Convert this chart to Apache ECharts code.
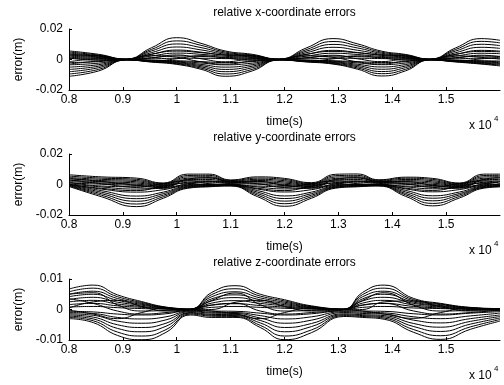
<!DOCTYPE html>
<html>
<head>
<meta charset="utf-8">
<script src="https://cdn.jsdelivr.net/npm/echarts@6/dist/echarts.min.js"></script>
<style>
  html, body { margin: 0; padding: 0; background: #fff; }
  #chart { width: 504px; height: 385px; }
</style>
</head>
<body>
<div id="chart"></div>
<script>
// sample times (x 10^4 s) and error curves, values in mm (converted to m below)
const timesX = [0.80, 0.855, 0.906, 0.953, 1.0, 1.045, 1.09, 1.14, 1.19, 1.24, 1.29, 1.335, 1.38, 1.425, 1.47, 1.517, 1.565, 1.60];
const xUpperMm = [
  [5.6, 3.4, 0.3, 7.7, 14.3, 10.6, 5.6, 3.4, 0.3, 7.5, 13.7, 10.3, 5.5, 3.3, 0.3, 7.5, 13.7, 12.6],
  [4.9, 2.9, 0.2, 6.6, 12.2, 9.3, 4.9, 2.9, 0.2, 6.4, 11.8, 9.0, 4.8, 2.9, 0.2, 6.5, 11.9, 10.9],
  [4.2, 2.5, 0.2, 5.6, 10.2, 7.8, 4.2, 2.5, 0.2, 5.4, 9.9, 7.6, 4.1, 2.4, 0.2, 5.5, 10.0, 9.1],
  [3.5, 2.1, 0.1, 4.5, 8.2, 6.3, 3.5, 2.1, 0.1, 4.4, 8.0, 6.1, 3.4, 2.0, 0.1, 4.4, 8.0, 7.3],
  [2.8, 1.7, 0.1, 3.4, 6.2, 4.8, 2.8, 1.7, 0.1, 3.3, 6.0, 4.6, 2.7, 1.6, 0.1, 3.3, 6.0, 5.5],
  [2.1, 1.3, 0.0, 2.3, 4.2, 3.4, 2.1, 1.3, 0.0, 2.2, 4.1, 3.3, 2.0, 1.2, 0.0, 2.2, 4.1, 3.8],
  [1.4, 0.8, 0.0, 1.2, 2.3, 2.0, 1.4, 0.8, 0.0, 1.2, 2.2, 1.9, 1.4, 0.8, 0.0, 1.2, 2.2, 2.1],
  [0.6, 0.4, 0.0, 0.4, 0.8, 0.8, 0.6, 0.4, 0.0, 0.4, 0.8, 0.8, 0.6, 0.4, 0.0, 0.4, 0.8, 0.8]
];
const xMiddleMm = [
  [-3.0, -1.0, 0.1, 2.5, 1.5, -1.5, -3.0, -1.0, 0.1, 2.4, 1.4, -1.5, -2.9, -1.0, 0.1, 2.4, 1.4, 0.2],
  [1.0, -0.5, -0.1, -1.0, 0.5, 2.5, 1.0, -0.5, -0.1, -1.0, 0.4, 2.4, 1.0, -0.4, -0.1, -1.0, 0.4, 1.5],
  [-1.5, 0.2, 0.0, 1.0, 3.0, 0.5, -1.5, 0.2, 0.0, 1.0, 2.8, 0.5, -1.4, 0.2, 0.0, 1.0, 2.8, 1.8],
  [3.0, 2.5, 0.0, 3.5, 5.5, 4.5, 3.0, 2.5, 0.0, 3.4, 5.3, 4.4, 3.0, 2.4, 0.0, 3.4, 5.3, 5.0]
];
const xLowerMm = [
  [-11.0, -7.5, -0.3, -1.7, -3.2, -6.4, -11.0, -7.5, -0.3, -1.6, -3.0, -6.3, -10.8, -7.4, -0.3, -1.6, -3.0, -4.2],
  [-9.5, -6.5, -0.3, -1.5, -2.8, -5.6, -9.5, -6.5, -0.3, -1.4, -2.7, -5.5, -9.3, -6.4, -0.3, -1.4, -2.7, -3.6],
  [-8.0, -5.4, -0.2, -1.3, -2.4, -4.8, -8.0, -5.4, -0.2, -1.2, -2.3, -4.7, -7.9, -5.3, -0.2, -1.2, -2.3, -3.1],
  [-6.5, -4.4, -0.2, -1.1, -2.0, -4.0, -6.5, -4.4, -0.2, -1.0, -1.9, -3.9, -6.4, -4.3, -0.2, -1.0, -1.9, -2.6],
  [-5.0, -3.4, -0.1, -0.9, -1.6, -3.2, -5.0, -3.4, -0.1, -0.8, -1.5, -3.1, -4.9, -3.3, -0.1, -0.8, -1.5, -2.1],
  [-3.5, -2.4, -0.1, -0.7, -1.2, -2.3, -3.5, -2.4, -0.1, -0.6, -1.1, -2.2, -3.4, -2.3, -0.1, -0.6, -1.1, -1.5],
  [-2.0, -1.4, 0.0, -0.4, -0.8, -1.4, -2.0, -1.4, 0.0, -0.4, -0.8, -1.4, -2.0, -1.4, 0.0, -0.4, -0.8, -1.0]
];

const timesY = [0.80, 0.86, 0.925, 0.975, 1.02, 1.06, 1.10, 1.15, 1.20, 1.25, 1.295, 1.335, 1.375, 1.425, 1.475, 1.525, 1.57, 1.60];
const yUpperMm = [
  [6.4, 5.0, 4.2, 1.0, 6.8, 6.8, 3.0, 5.0, 4.0, 1.2, 6.7, 6.9, 3.1, 4.8, 4.0, 1.0, 6.8, 6.8],
  [5.5, 4.2, 3.4, 0.6, 5.9, 6.0, 2.6, 4.2, 3.3, 0.7, 5.8, 6.0, 2.7, 4.1, 3.3, 0.6, 5.9, 6.0],
  [4.6, 3.4, 2.6, 0.2, 5.0, 5.1, 2.2, 3.4, 2.5, 0.3, 4.9, 5.1, 2.3, 3.3, 2.5, 0.2, 5.0, 5.1],
  [3.7, 2.6, 1.8, -0.2, 4.1, 4.2, 1.8, 2.6, 1.7, -0.1, 4.0, 4.2, 1.9, 2.5, 1.7, -0.2, 4.1, 4.2],
  [2.8, 1.8, 1.0, -0.6, 3.2, 3.3, 1.4, 1.8, 0.9, -0.5, 3.1, 3.3, 1.5, 1.7, 0.9, -0.6, 3.2, 3.3],
  [1.9, 1.0, 0.2, -1.0, 2.3, 2.4, 1.0, 1.0, 0.1, -0.9, 2.2, 2.4, 1.1, 0.9, 0.1, -1.0, 2.3, 2.4],
  [1.0, 0.2, -0.6, -1.4, 1.4, 1.5, 0.6, 0.2, -0.7, -1.3, 1.3, 1.5, 0.7, 0.1, -0.7, -1.4, 1.4, 1.5]
];
const yMiddleMm = [
  [3.0, 0.5, -2.0, -2.5, 0.5, 2.0, 1.5, 0.5, -2.0, -2.4, 0.5, 2.0, 1.5, 0.4, -1.9, -2.4, 0.5, 2.0],
  [1.5, -1.0, -1.5, 0.5, 2.5, 0.5, -0.5, -1.0, -1.5, 0.5, 2.4, 0.5, -0.5, -1.0, -1.5, 0.5, 2.4, 0.5],
  [4.0, 2.0, -0.5, -2.0, 3.5, 4.5, 2.0, 2.0, -0.5, -1.9, 3.4, 4.5, 2.0, 1.9, -0.5, -2.0, 3.4, 4.5],
  [0.0, -2.5, -4.0, -1.0, 0.8, -0.5, -0.2, -2.5, -4.0, -1.0, 0.8, -0.5, -0.2, -2.4, -3.9, -1.0, 0.8, -0.5]
];
const yLowerMm = [
  [-1.3, -8.0, -14.5, -9.0, -2.5, -1.5, -1.0, -8.0, -14.3, -9.0, -2.4, -1.5, -1.0, -7.8, -14.0, -8.8, -2.4, -1.6],
  [-1.0, -7.0, -12.8, -8.0, -2.1, -1.2, -0.8, -7.0, -12.6, -8.0, -2.0, -1.2, -0.8, -6.8, -12.4, -7.8, -2.0, -1.3],
  [-0.7, -6.0, -11.0, -7.0, -1.7, -0.9, -0.6, -6.0, -10.9, -7.0, -1.7, -0.9, -0.6, -5.9, -10.7, -6.8, -1.7, -1.0],
  [-0.4, -5.0, -9.3, -6.0, -1.3, -0.6, -0.4, -5.0, -9.2, -6.0, -1.3, -0.6, -0.4, -4.9, -9.0, -5.9, -1.3, -0.7],
  [-0.1, -4.0, -7.6, -5.0, -0.9, -0.3, -0.2, -4.0, -7.5, -5.0, -0.9, -0.3, -0.2, -3.9, -7.4, -4.9, -0.9, -0.4],
  [0.2, -3.0, -5.0, -3.4, -0.5, 0.0, 0.0, -3.0, -4.9, -3.4, -0.5, 0.0, 0.0, -2.9, -4.8, -3.3, -0.5, -0.1],
  [0.5, -1.6, -3.0, -2.2, -0.1, 0.3, 0.2, -1.6, -2.9, -2.2, -0.1, 0.3, 0.2, -1.5, -2.8, -2.1, -0.1, 0.2]
];

const timesZ = [0.80, 0.845, 0.89, 0.935, 0.98, 1.025, 1.065, 1.11, 1.155, 1.20, 1.25, 1.31, 1.345, 1.385, 1.44, 1.49, 1.545, 1.60];
const zUpperMm = [
  [6.7, 8.0, 4.8, 2.6, 0.8, 0.2, 5.6, 7.8, 5.0, 3.2, 1.2, 0.2, 5.6, 8.0, 3.6, 2.0, 0.7, 0.3],
  [5.8, 7.0, 4.2, 2.3, 0.7, 0.1, 4.9, 6.8, 4.4, 2.8, 1.0, 0.1, 4.9, 7.0, 3.2, 1.8, 0.6, 0.2],
  [5.0, 6.0, 3.6, 2.0, 0.6, 0.1, 4.2, 5.8, 3.8, 2.4, 0.9, 0.1, 4.2, 6.0, 2.8, 1.6, 0.5, 0.2],
  [4.2, 5.0, 3.0, 1.7, 0.5, 0.0, 3.5, 4.8, 3.2, 2.0, 0.7, 0.0, 3.5, 5.0, 2.4, 1.3, 0.4, 0.1],
  [3.3, 4.0, 2.4, 1.4, 0.4, 0.0, 2.8, 3.9, 2.6, 1.6, 0.6, 0.0, 2.8, 4.0, 2.0, 1.1, 0.3, 0.1],
  [2.5, 3.0, 1.8, 1.0, 0.3, 0.0, 2.1, 2.9, 2.0, 1.2, 0.4, 0.0, 2.1, 3.0, 1.5, 0.8, 0.2, 0.0],
  [1.6, 2.0, 1.2, 0.7, 0.2, 0.0, 1.4, 1.9, 1.3, 0.8, 0.3, 0.0, 1.4, 2.0, 1.0, 0.5, 0.1, 0.0],
  [0.8, 1.0, 0.6, 0.3, 0.1, 0.0, 0.7, 1.0, 0.7, 0.4, 0.1, 0.0, 0.7, 1.0, 0.5, 0.3, 0.0, -0.1]
];
const zMiddleMm = [
  [3.5, 2.0, -0.5, -1.5, -1.0, 0.0, 1.5, 2.0, -0.5, -1.5, -1.0, -0.1, 1.5, 2.0, -0.5, -1.5, -1.0, -0.2],
  [0.5, 2.5, 3.0, 1.0, -0.5, -0.1, 0.0, 2.4, 3.0, 1.0, -0.5, -0.1, 0.0, 2.5, 2.8, 0.9, -0.5, -0.3],
  [5.0, 5.5, 1.5, -0.5, -0.3, 0.1, 3.0, 5.4, 1.6, -0.5, -0.3, 0.1, 3.0, 5.5, 1.4, -0.5, -0.3, 0.0],
  [-0.2, -1.5, -3.0, -1.0, 0.5, 0.0, -0.5, -1.5, -3.0, -1.0, 0.5, 0.0, -0.5, -1.5, -2.9, -1.0, 0.5, -0.5]
];
const zLowerMm = [
  [-3.0, -4.3, -8.5, -9.9, -7.5, -1.8, -2.6, -2.6, -5.9, -9.9, -7.6, -2.3, -2.6, -3.2, -7.5, -9.8, -6.5, -3.8],
  [-2.6, -3.7, -7.4, -8.7, -6.6, -1.5, -2.2, -2.3, -5.2, -8.7, -6.7, -2.0, -2.3, -2.8, -6.6, -8.6, -5.7, -3.3],
  [-2.2, -3.1, -6.2, -7.3, -5.5, -1.2, -1.9, -2.0, -4.4, -7.3, -5.6, -1.7, -2.0, -2.4, -5.6, -7.2, -4.8, -2.8],
  [-1.8, -2.5, -5.0, -5.9, -4.5, -1.0, -1.6, -1.7, -3.6, -5.9, -4.6, -1.4, -1.7, -2.0, -4.6, -5.8, -3.9, -2.3],
  [-1.4, -1.9, -3.8, -4.5, -3.4, -0.7, -1.2, -1.3, -2.8, -4.5, -3.5, -1.0, -1.3, -1.5, -3.5, -4.4, -3.0, -1.8],
  [-1.0, -1.3, -2.6, -3.1, -2.4, -0.5, -0.9, -1.0, -2.0, -3.1, -2.4, -0.7, -0.9, -1.1, -2.4, -3.0, -2.1, -1.2],
  [-0.6, -0.8, -1.5, -1.8, -1.4, -0.3, -0.5, -0.6, -1.2, -1.8, -1.4, -0.4, -0.5, -0.6, -1.4, -1.8, -1.2, -0.7]
];

const titles = ['relative x-coordinate errors', 'relative y-coordinate errors', 'relative z-coordinate errors'];
const yLimits = [0.02, 0.02, 0.01];
const xTickMin = 0.8;
const xTickMax = 1.6;

const font = '"Liberation Sans", Arial, sans-serif';
const gridTops = [29, 154, 279];
const plotH = 61;

const panels = [
  { times: timesX, lines: xUpperMm.concat(xMiddleMm, xLowerMm) },
  { times: timesY, lines: yUpperMm.concat(yMiddleMm, yLowerMm) },
  { times: timesZ, lines: zUpperMm.concat(zMiddleMm, zLowerMm) }
];

function buildSeries(times, lines, idx) {
  return lines.map(vals => ({
    type: 'line',
    xAxisIndex: idx,
    yAxisIndex: idx,
    data: vals.map((v, i) => [times[i], v / 1000]),
    smooth: 0.5,
    showSymbol: false,
    silent: true,
    lineStyle: { color: '#000', width: 1 }
  }));
}

const textStyle = { color: '#000', fontSize: 12, fontFamily: font };

let grids = [], xAxes = [], yAxes = [], series = [], graphics = [];

panels.forEach((p, i) => {
  grids.push({ left: 69, top: gridTops[i], width: 431, height: plotH });

  xAxes.push({
    type: 'value', gridIndex: i, min: xTickMin, max: xTickMax, interval: 0.1,
    axisLine: { show: true, onZero: false, lineStyle: { color: '#000', width: 1 } },
    axisTick: { inside: true, length: 3, lineStyle: { color: '#000' } },
    axisLabel: Object.assign({ showMaxLabel: false, margin: 4 }, textStyle),
    splitLine: { show: false },
    name: 'time(s)', nameLocation: 'middle', nameGap: 26,
    nameTextStyle: textStyle
  });

  yAxes.push({
    type: 'value', gridIndex: i, min: -yLimits[i], max: yLimits[i], interval: yLimits[i],
    axisLine: { show: true, onZero: false, lineStyle: { color: '#000', width: 1 } },
    axisTick: { inside: true, length: 3, lineStyle: { color: '#000' } },
    axisLabel: Object.assign({ margin: 6 }, textStyle),
    splitLine: { show: false },
    name: 'error(m)', nameLocation: 'middle', nameGap: 37, nameRotate: 90,
    nameTextStyle: textStyle
  });

  series = series.concat(buildSeries(p.times, p.lines, i));

  // subplot title
  graphics.push({
    type: 'text', x: 284.5, y: gridTops[i] - 16,
    style: { text: titles[i], fill: '#000', font: '12px ' + font, textAlign: 'center', textVerticalAlign: 'middle' }
  });
  // x 10^4 exponent
  graphics.push({
    type: 'text', x: 469, y: gridTops[i] + 97,
    style: { text: 'x 10', fill: '#000', font: '12px ' + font, textAlign: 'left', textVerticalAlign: 'middle' }
  });
  graphics.push({
    type: 'text', x: 494, y: gridTops[i] + 90,
    style: { text: '4', fill: '#000', font: '8px ' + font, textAlign: 'left', textVerticalAlign: 'middle' }
  });
});

const chart = echarts.init(document.getElementById('chart'));
chart.setOption({
  animation: false,
  backgroundColor: '#fff',
  grid: grids,
  xAxis: xAxes,
  yAxis: yAxes,
  series: series,
  graphic: graphics
});
</script>
</body>
</html>
